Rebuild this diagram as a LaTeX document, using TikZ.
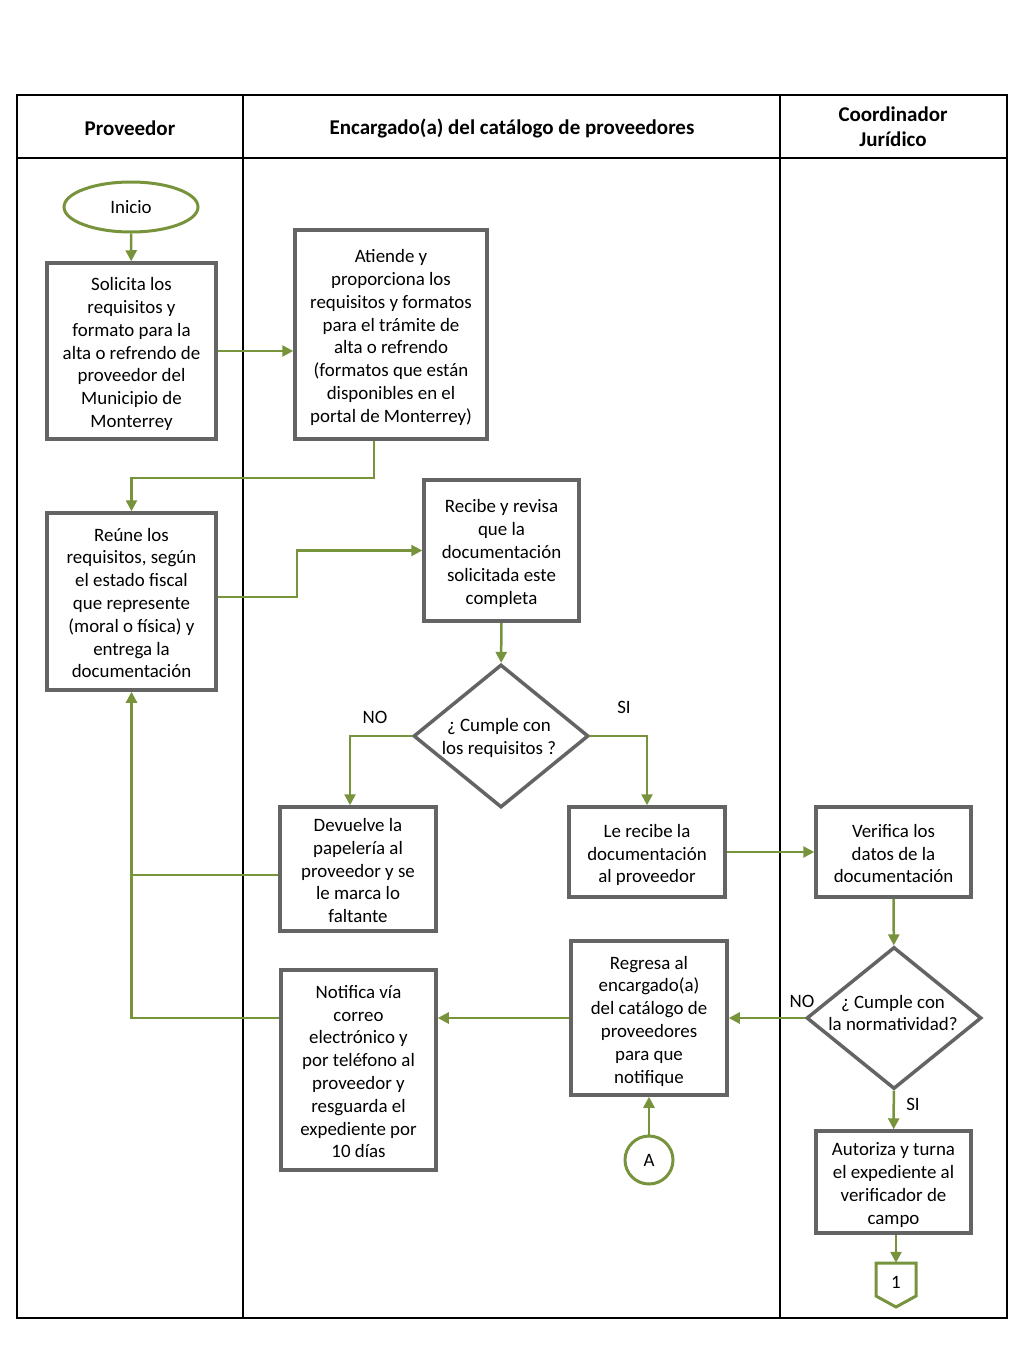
\documentclass[tikz,border=0pt]{standalone}
\usepackage{fontspec}
\setmainfont{Carlito}
\usetikzlibrary{shapes.geometric,arrows.meta}
\definecolor{grn}{RGB}{119,147,60}
\definecolor{gry}{RGB}{100,100,100}
\newcommand\bt{\rule{0pt}{22pt}}
\newcommand\et{\rule[-6pt]{0pt}{6pt}}
\begin{document}
\begin{tikzpicture}[x=1pt,y=-1pt,
  every node/.style={font=\fontsize{18.9}{22.8}\selectfont},
  box/.style={draw=gry,line width=3.5pt,fill=white,align=center,inner sep=0pt},
  dia/.style={draw=gry,line width=3.5pt,diamond,inner sep=0pt,fill=white},
  conn/.style={draw=grn,line width=2.5pt,-{Triangle[width=11pt,length=11pt]}},
  plain/.style={draw=grn,line width=2.5pt},
  grnshape/.style={draw=grn,line width=3pt},
  lbl/.style={inner sep=0pt},
  head/.style={font=\fontsize{21}{25}\selectfont\bfseries,align=center}
  ]
\useasboundingbox (0,0) rectangle (1024,1365);
% table
\draw[line width=1.5pt] (17,95) rectangle (1007,1318);
\draw[line width=1.5pt] (17,158) -- (1007,158);
\draw[line width=1.5pt] (243,95) -- (243,1318);
\draw[line width=1.5pt] (780,95) -- (780,1318);
\node[head] (h1) at (130,128) {Proveedor};
\node[head] (h2) at (512,128) {Encargado(a) del catálogo de proveedores};
\node[head] (h3) at (893,127) {Coordinador\\Jurídico};

% nodes
\node[grnshape,ellipse,minimum width=134,minimum height=50,inner sep=0pt] (ini) at (131,207) {Inicio};
\node[box,minimum width=169,minimum height=176] (sol) at (131.5,351) {\bt Solicita los\\requisitos y\\formato para la\\alta o refrendo de\\proveedor del\\Municipio de\\Monterrey\et};
\node[box,minimum width=192,minimum height=209] (ati) at (391,334.5) {\bt Atiende y\\proporciona los\\requisitos y formatos\\para el trámite de\\alta o refrendo\\(formatos que están\\disponibles en el\\portal de Monterrey)\et};
\node[box,minimum width=169,minimum height=177] (reu) at (131.5,601.5) {\bt Reúne los\\requisitos, según\\el estado fiscal\\que represente\\(moral o física) y\\entrega la\\documentación\et};
\node[box,minimum width=155,minimum height=141] (rec) at (501.5,550.5) {\bt Recibe y revisa\\que la\\documentación\\solicitada este\\completa\et};
\node[dia,minimum width=175,minimum height=143] (d1) at (501,736) {};
\node[align=center] (d1t) at (499,738) {¿ Cumple con\\los requisitos ?};
\node[box,minimum width=156,minimum height=124] (dev) at (358,869) {\bt Devuelve la\\papelería al\\proveedor y se\\le marca lo\\faltante\et};
\node[box,minimum width=156,minimum height=90] (lr) at (647,852) {\bt Le recibe la\\documentación\\al proveedor\et};
\node[box,minimum width=155,minimum height=90] (ver) at (893.5,852) {\bt Verifica los\\datos de la\\documentación\et};
\node[dia,minimum width=175,minimum height=142] (d2) at (894,1018) {};
\node[align=center] (d2t) at (893,1013) {¿ Cumple con\\la normatividad?};
\node[box,minimum width=156,minimum height=154] (reg) at (649,1018) {\bt Regresa al\\encargado(a)\\del catálogo de\\proveedores\\para que\\notifique\et};
\node[box,minimum width=155,minimum height=200] (not) at (358.5,1070) {\bt Notifica vía\\correo\\electrónico y\\por teléfono al\\proveedor y\\resguarda el\\expediente por\\10 días\et};
\node[grnshape,circle,minimum size=48,inner sep=0pt] (A) at (649,1160) {A};
\node[box,minimum width=155,minimum height=102] (aut) at (893.5,1182) {\bt Autoriza y turna\\el expediente al\\verificador de\\campo\et};
\node[minimum width=40,minimum height=38,inner sep=0pt] (off) at (896,1282) {1};
\draw[grnshape,line join=miter] (876,1263) -- (916,1263) -- (916,1296) -- (896,1307) -- (876,1296) -- cycle;

% labels
\node[lbl] (no1) at (375,717) {NO};
\node[lbl] (si1) at (624,707) {SI};
\node[lbl] (no2) at (802,1001) {NO};
\node[lbl] (si2) at (913,1104) {SI};

% connectors
\coordinate (c1) at (374,478);
\coordinate (c2) at (297,597);
\coordinate (c3) at (350,800);
\coordinate (c5) at (131.5,875);
\draw[conn] (ini) -- (sol);
\draw[conn] (sol.east) -- (sol.east -| ati.west);
\draw[conn] (ati.south -| c1) -- (c1) -| (reu.north);
\draw[conn] (reu.east |- c2) -- (c2) |- (rec.west);
\draw[conn] (rec) -- (d1);
\draw[conn] (d1.west) -| (dev.north -| c3);
\draw[conn] (d1.east) -| (lr.north);
\draw[conn] (lr) -- (ver);
\draw[conn] (ver) -- (d2);
\draw[conn] (d2.west) -- (d2.west -| reg.east);
\draw[conn] (reg.west) -- (reg.west -| not.east);
\draw[conn] (not.west |- reg.west) -| (reu.south);
\draw[plain] (dev.west |- c5) -- (c5);
\draw[conn] (A) -- (reg);
\draw[conn] (d2) -- (aut);
\draw[conn] (aut.south -| off.north) -- (off.north);
\end{tikzpicture}
\end{document}
